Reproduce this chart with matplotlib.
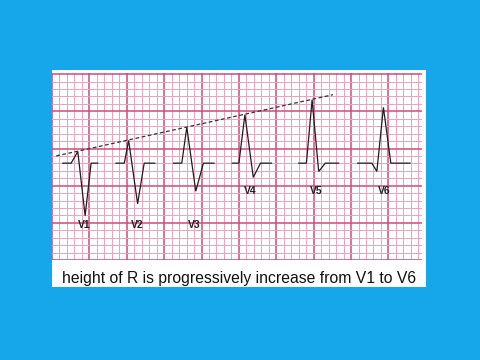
import matplotlib
matplotlib.use("Agg")
import matplotlib.pyplot as plt
from matplotlib.patches import Rectangle
import numpy as np

# ECG trace vertices per lead, in mm of paper (1 small square = 1 mm)
leads = ["V1", "V2", "V3", "V4", "V5", "V6"]
trace_t = [
    [1.45, 2.56, 3.45, 4.43, 5.23, 6.12],
    [8.56, 9.67, 10.25, 11.45, 12.33, 13.76],
    [16.25, 17.36, 18.03, 19.23, 20.25, 21.67],
    [24.12, 25.00, 25.80, 26.92, 27.89, 29.36],
    [33.00, 34.03, 34.79, 35.67, 36.56, 38.33],
    [40.87, 42.79, 43.45, 44.33, 45.32, 47.89],
]
trace_v = [
    [13.03, 13.03, 14.59, 5.96, 13.03, 13.03],
    [13.03, 13.03, 16.09, 7.56, 13.03, 13.03],
    [13.03, 13.03, 17.87, 9.25, 13.03, 13.03],
    [13.03, 13.03, 19.56, 11.12, 13.03, 13.03],
    [13.03, 13.03, 21.56, 11.92, 13.03, 13.03],
    [13.03, 13.03, 11.92, 20.53, 13.03, 13.03],
]
label_x = [4.33, 11.36, 19.09, 26.47, 35.36, 44.47]
label_y = [4.67, 4.67, 4.67, 9.33, 9.33, 9.33]

# dashed guide through the R peaks
trend_x = [0.56, 37.59]
trend_y = [14.0, 22.24]

caption = "height of R is progressively increase from V1 to V6"

BLUE = "#16A6EA"
MINOR = "#EBA3BC"
MAJOR = "#CF4C7A"

fig = plt.figure(figsize=(4.8, 3.6), dpi=100)
fig.patch.set_facecolor(BLUE)

# white paper card
fig.patches.append(Rectangle((52 / 480, 1 - 287 / 360), 374 / 480, 217 / 360,
                             transform=fig.transFigure, facecolor="white",
                             edgecolor="none", zorder=-5))

ax = fig.add_axes([52 / 480, 1 - 260 / 360, 370 / 480, 187 / 360])
ax.set_zorder(2)
ax.set_facecolor("white")
ax.set_xlim(0.16, 49.49)
ax.set_ylim(0.23, 25.16)

ax.set_xticks(np.arange(0, 50, 5))
ax.set_xticks(np.arange(0, 50, 1), minor=True)
ax.set_yticks(np.arange(0, 26, 5))
ax.set_yticks(np.arange(0, 26, 1), minor=True)
ax.grid(which="minor", color=MINOR, linewidth=0.7)
ax.grid(which="major", color=MAJOR, linewidth=1.1)
ax.set_axisbelow(True)
ax.tick_params(which="both", length=0, labelbottom=False, labelleft=False)
for s in ax.spines.values():
    s.set_visible(False)

for name, t, v, lx, ly in zip(leads, trace_t, trace_v, label_x, label_y):
    ax.plot(t, v, color="#1e1e1e", linewidth=0.9, solid_joinstyle="miter")
    ax.text(lx, ly, name, ha="center", va="center", fontsize=7.5,
            fontweight="bold", color="#222222", family="Liberation Sans")

ax.plot(trend_x, trend_y, color="#333333", linewidth=0.9, linestyle=(0, (3, 2)))

fig.text(0.498, 1 - 279 / 360, caption, ha="center", va="center",
         fontsize=11.3, color="#111111", family="Liberation Sans")

fig.savefig("out.png", dpi=100, facecolor=fig.get_facecolor())
